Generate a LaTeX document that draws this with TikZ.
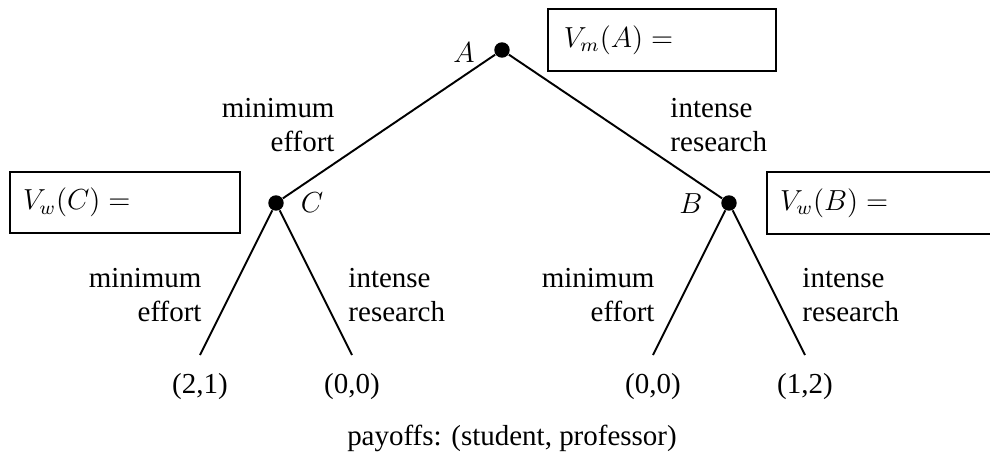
\documentclass[tikz,border=0pt]{standalone}
\usepackage[no-math]{fontspec}
\setmainfont{Liberation Serif}
\usetikzlibrary{positioning}

\begin{document}
\begin{tikzpicture}[x=0.414pt,y=-0.414pt,
  every node/.style={font=\fontsize{12}{14.4}\selectfont},
  dot/.style={circle, fill, inner sep=0pt, minimum size=6.4pt},
  branch/.style={line width=0.8pt},
  lbl/.style={inner sep=0pt},
  valbox/.style={draw, line width=0.8pt, anchor=west, align=left,
    minimum height=25.5pt, inner xsep=5.4pt, text width=84.4pt}]
\useasboundingbox (0,0) rectangle (990,460);
% decision nodes
\node[dot] (A) at (502,50) {};
\node[dot] (C) at (276,203) {};
\node[dot] (B) at (729,203) {};
\coordinate (CL) at (200,355);
\coordinate (CR) at (352,355);
\coordinate (BL) at (653,355);
\coordinate (BR) at (805,355);
\draw[branch] (A) -- (C);
\draw[branch] (A) -- (B);
\draw[branch] (C) -- (CL);
\draw[branch] (C) -- (CR);
\draw[branch] (B) -- (BL);
\draw[branch] (B) -- (BR);
% node letters
\node[lbl, anchor=base] (labA) at (464,62) {$A$};
\node[lbl, anchor=base] (labC) at (312,212) {$C$};
\node[lbl, anchor=base] (labB) at (691,213) {$B$};
% choices
\node[lbl, anchor=east, align=right] (effAC) at (335,125) {minimum\\effort};
\node[lbl, anchor=west, align=left] (resAB) at (670,125) {intense\\research};
\node[lbl, anchor=east, align=right] (effCL) at (202,295) {minimum\\effort};
\node[lbl, anchor=west, align=left] (resCR) at (348,295) {intense\\research};
\node[lbl, anchor=east, align=right] (effBL) at (655,295) {minimum\\effort};
\node[lbl, anchor=west, align=left] (resBR) at (802,295) {intense\\research};
% values
\node[valbox, inner xsep=6.6pt, text width=81.2pt] (valA) at (547,40) {$V_m(A)=$};
\node[valbox] (valC) at (9,202.5) {$V_w(C)=$};
\node[valbox] (valB) at (766,203) {$V_w(B)=$};
% payoffs
\node[lbl, below=7.5pt of CL] (payCL) {(2,1)};
\node[lbl, below=7.5pt of CR] (payCR) {(0,0)};
\node[lbl, below=7.5pt of BL] (payBL) {(0,0)};
\node[lbl, below=7.5pt of BR] (payBR) {(1,2)};
\node[lbl, anchor=base] (note) at (512,445) {payoffs: (student, professor)};
\end{tikzpicture}
\end{document}
